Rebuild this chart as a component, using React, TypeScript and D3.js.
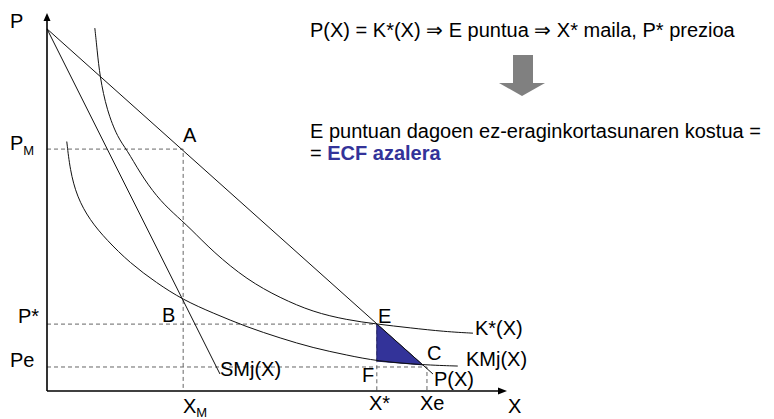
import React from "react";
import * as d3 from "d3";

// curve points (X, P)
const kStarX = [1.04, 1.09, 1.15, 1.3, 1.54, 1.74, 2.02, 2.39, 2.74, 3.11, 3.61, 4.35, 5.07, 5.78, 6.52, 7.17, 7.89, 8.65, 9.26];
const kStarP = [9.6, 9.02, 8.31, 7.43, 6.69, 6.38, 5.77, 5.13, 4.71, 4.31, 3.68, 2.94, 2.46, 2.09, 1.88, 1.77, 1.67, 1.57, 1.53];

const kmjX = [0.43, 0.5, 0.65, 0.93, 1.3, 1.8, 2.38, 2.96, 3.61, 4.35, 5.07, 5.78, 6.52, 7.17, 8.17, 8.93];
const kmjP = [6.6, 5.85, 5.14, 4.52, 3.99, 3.39, 2.86, 2.41, 2.06, 1.69, 1.4, 1.14, 0.95, 0.79, 0.69, 0.66];

// straight lines: demand P(X) and marginal revenue SMj(X)
const demandX = [0, 8.39];
const demandP = [9.58, 0.45];
const smjX = [0, 3.76];
const smjP = [9.58, 0.45];

// key points
const XM = 2.96, PM = 6.4;
const Xstar = 7.17, Pstar = 1.77;
const Xe = 8.26, Pe = 0.635;
const Fp = 0.79;
const Cx = 8.17, Cp = 0.69;

const W = 774, H = 419;
const font = "'Liberation Sans', Arial, sans-serif";

export default function App() {
  const x = d3.scaleLinear().domain([0, 10]).range([47, 507]);
  const y = d3.scaleLinear().domain([0, 10]).range([391, 13]);

  const smooth = d3
    .line<[number, number]>()
    .x((d) => x(d[0]))
    .y((d) => y(d[1]))
    .curve(d3.curveBasis);
  const straight = d3
    .line<[number, number]>()
    .x((d) => x(d[0]))
    .y((d) => y(d[1]));

  const zip = (a: number[], b: number[]) => a.map((v, i) => [v, b[i]] as [number, number]);

  const tri = straight([[Xstar, Pstar], [Xstar, Fp], [Cx, Cp]]) + "Z";

  const dash = { stroke: "#666", strokeWidth: 1, strokeDasharray: "4,3", fill: "none" };
  const curve = { stroke: "#111", strokeWidth: 1, fill: "none" };
  const lbl = { fontFamily: font, fontSize: 20, fill: "#000" };

  const ax0 = x(0), ay0 = y(0), axEnd = x(10), ayEnd = y(10);

  return (
    <svg width={W} height={H} style={{ position: "absolute", left: 0, top: 0, background: "#fff" }}>
      {/* dashed guides */}
      <path d={`M${ax0},${y(PM)}H${x(XM)}V${ay0}`} {...dash} />
      <path d={`M${ax0},${y(Pstar)}H${x(Xstar)}V${ay0}`} {...dash} />
      <path d={`M${ax0},${y(Pe)}H${x(Xe)}V${ay0}`} {...dash} />

      {/* ECF triangle */}
      <path d={tri} fill="#333399" stroke="#22226e" strokeWidth={1} />

      {/* curves */}
      <path d={smooth(zip(kStarX, kStarP)) || ""} {...curve} />
      <path d={smooth(zip(kmjX, kmjP)) || ""} {...curve} />
      <path d={straight(zip(demandX, demandP)) || ""} {...curve} />
      <path d={straight(zip(smjX, smjP)) || ""} {...curve} />

      {/* axes */}
      <path d={`M${ax0},${ay0}V${ayEnd + 6}`} stroke="#000" strokeWidth={1.6} />
      <path d={`M${ax0},${ay0}H${axEnd - 6}`} stroke="#000" strokeWidth={1.6} />
      <path d={`M${ax0 - 3.5},${ayEnd + 8}L${ax0},${ayEnd}L${ax0 + 3.5},${ayEnd + 8}Z`} fill="#000" />
      <path d={`M${axEnd - 9},${ay0 - 3.5}L${axEnd},${ay0}L${axEnd - 9},${ay0 + 3.5}Z`} fill="#000" />

      {/* axis labels */}
      <text x={10} y={28} {...lbl}>P</text>
      <text x={508} y={413} {...lbl}>X</text>
      <text x={10} y={150} {...lbl}>P<tspan fontSize={13} dy={5}>M</tspan></text>
      <text x={18} y={323} {...lbl}>P*</text>
      <text x={10} y={367} {...lbl}>Pe</text>
      <text x={183} y={413} {...lbl}>X<tspan fontSize={13} dy={4}>M</tspan></text>
      <text x={369} y={410} {...lbl}>X*</text>
      <text x={420} y={410} {...lbl}>Xe</text>

      {/* point labels */}
      <text x={183} y={142} {...lbl}>A</text>
      <text x={162} y={322} {...lbl}>B</text>
      <text x={378} y={323} {...lbl}>E</text>
      <text x={427} y={360} {...lbl}>C</text>
      <text x={362} y={382} {...lbl}>F</text>

      {/* curve labels */}
      <text x={220} y={376} {...lbl}>SMj(X)</text>
      <text x={475} y={335} {...lbl}>K*(X)</text>
      <text x={466} y={366} {...lbl}>KMj(X)</text>
      <text x={434} y={386} {...lbl}>P(X)</text>

      {/* annotation */}
      <text x={310} y={37} {...lbl}>P(X) = K*(X) ⇒ E puntua ⇒ X* maila, P* prezioa</text>
      <path d="M513,55H533V83H545L522,96L499,83H513Z" fill="#808080" />
      <text x={310} y={138} {...lbl}>E puntuan dagoen ez-eraginkortasunaren kostua =</text>
      <text x={310} y={160} {...lbl}>
        = <tspan fill="#333399" fontWeight="bold">ECF azalera</tspan>
      </text>
    </svg>
  );
}
